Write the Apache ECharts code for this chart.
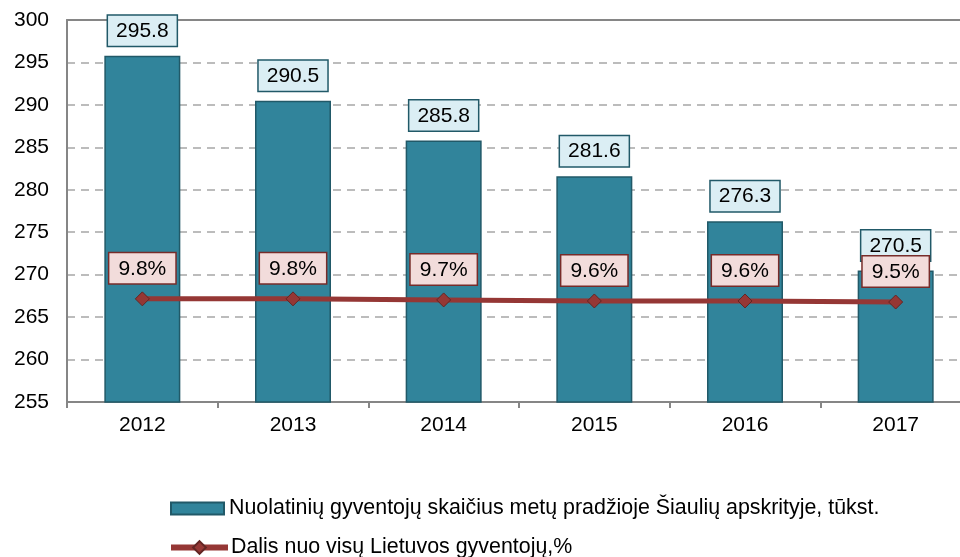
<!DOCTYPE html>
<html>
<head>
<meta charset="utf-8">
<script src="https://cdn.jsdelivr.net/npm/echarts@6/dist/echarts.min.js"></script>
<style>html,body{margin:0;padding:0;background:#fff}#c{width:960px;height:557px}</style>
</head>
<body>
<div id="c"></div>
<script>
const categories = ['2012', '2013', '2014', '2015', '2016', '2017'];
const populationValues = [295.8, 290.5, 285.8, 281.6, 276.3, 270.5];
const shareValues = [9.8, 9.8, 9.7, 9.6, 9.6, 9.5];
const populationName = 'Nuolatinių gyventojų skaičius metų pradžioje Šiaulių apskrityje, tūkst.';
const shareName = 'Dalis nuo visų Lietuvos gyventojų,%';

const FONT = "'Liberation Sans', Arial, sans-serif";
const FS = 21;
const chart = echarts.init(document.getElementById('c'));
chart.setOption({
  animation: false,
  textStyle: { fontFamily: FONT },
  grid: { left: 67, top: 20, width: 904, bottom: 155, containLabel: false, outerBoundsMode: 'none' },
  legend: [{
    left: 170,
    top: 498,
    padding: 0,
    itemWidth: 53,
    itemHeight: 12,
    textStyle: { fontFamily: FONT, fontSize: 21.4, color: '#000' },
    data: [{ name: populationName, icon: 'rect' }]
  }, {
    left: 168,
    top: 537,
    padding: 0,
    itemWidth: 57,
    itemHeight: 16,
    textStyle: { fontFamily: FONT, fontSize: 21.4, color: '#000', padding: [0, 0, 0, -2] },
    data: [{ name: shareName, lineStyle: { width: 6, color: '#953735' } }]
  }],
  xAxis: [{
    type: 'category',
    data: categories,
    axisLine: { lineStyle: { color: '#868686', width: 2 } },
    axisTick: { show: true, alignWithLabel: false, length: 6, lineStyle: { color: '#868686', width: 2 } },
    axisLabel: { color: '#000', fontSize: FS, fontFamily: FONT, margin: 13 }
  }, {
    type: 'category',
    data: categories,
    position: 'top',
    axisLine: { show: true, lineStyle: { color: '#868686', width: 2 } },
    axisTick: { show: false },
    axisLabel: { show: false }
  }],
  yAxis: [{
    type: 'value',
    min: 255,
    max: 300,
    interval: 5,
    axisLine: { show: true, lineStyle: { color: '#868686', width: 2 } },
    axisTick: { show: false },
    axisLabel: { color: '#000', fontSize: FS, fontFamily: FONT, margin: 18 },
    splitLine: { show: true, lineStyle: { color: '#A6A6A6', width: 1.5, type: [8, 6] } }
  }, {
    type: 'value',
    min: 0,
    max: 36.3,
    show: false,
    splitLine: { show: false }
  }],
  series: [{
    name: populationName,
    type: 'bar',
    data: populationValues,
    barWidth: 76,
    itemStyle: { color: '#31849B', borderColor: '#215968', borderWidth: 1.5 },
    label: {
      show: true,
      position: 'top',
      distance: 10,
      color: '#000',
      fontSize: FS,
      fontFamily: FONT,
      backgroundColor: '#DBEEF4',
      borderColor: '#215968',
      borderWidth: 1.5,
      padding: [5, 8, 4, 8],
      formatter: p => p.value.toFixed(1)
    }
  }, {
    name: shareName,
    type: 'line',
    yAxisIndex: 1,
    data: shareValues,
    symbol: 'diamond',
    symbolSize: 14,
    lineStyle: { color: '#953735', width: 5 },
    itemStyle: { color: '#953735', borderColor: '#632523', borderWidth: 1 },
    label: {
      show: true,
      position: 'top',
      distance: 8,
      color: '#000',
      fontSize: FS,
      fontFamily: FONT,
      backgroundColor: '#F2DCDB',
      borderColor: '#772C2A',
      borderWidth: 1.5,
      padding: [5, 9, 4, 9],
      formatter: p => p.value.toFixed(1) + '%'
    },
    z: 5
  }]
});
</script>
</body>
</html>
